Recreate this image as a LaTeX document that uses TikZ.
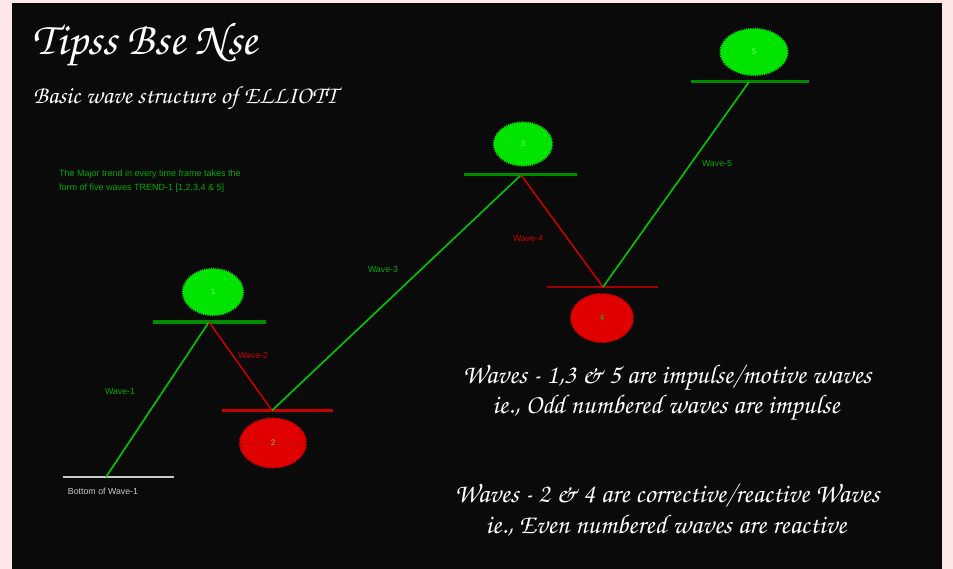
\documentclass[tikz,border=0pt]{standalone}
\usepackage[T1]{fontenc}
\usepackage{fontspec}
\usetikzlibrary{shapes.geometric,decorations.pathmorphing}
\setmainfont{Liberation Sans}
\newcommand\chanceryfont{\fontencoding{T1}\fontfamily{pzc}\fontseries{mb}\fontshape{it}\selectfont}
\definecolor{pagepink}{RGB}{253,232,232}
\definecolor{boardblack}{RGB}{10,10,10}
\definecolor{blobgreen}{RGB}{0,228,0}
\definecolor{linegreen}{RGB}{0,200,0}
\definecolor{bargreen}{RGB}{0,140,0}
\definecolor{blobred}{RGB}{225,0,0}
\definecolor{linered}{RGB}{200,0,0}
\definecolor{barred}{RGB}{160,0,0}
\definecolor{textgreen}{RGB}{0,170,0}
\definecolor{basegray}{RGB}{200,200,200}
\tikzset{
  x=1pt, y=-1pt,
  upleg/.style={draw=linegreen, line width=1.6pt},
  downleg/.style={draw=linered, line width=1.6pt},
  greenbar/.style={draw=bargreen, line width=3pt},
  redbar/.style={draw=linered, line width=2.6pt},
  darkredbar/.style={draw=barred, line width=2.6pt},
  blob/.style={ellipse, inner sep=0pt, font=\fontsize{8}{9}\selectfont,
    decorate, decoration={zigzag, segment length=2.2pt, amplitude=0.9pt}},
  greenblob/.style={blob, fill=blobgreen, draw=blobgreen, line width=0.4pt, text=green!60!white},
  redblob/.style={blob, fill=blobred, draw=blobred, line width=0.4pt, text=yellow!60!green},
  wavelabel/.style={font=\fontsize{8.8}{10}\selectfont, inner sep=0pt},
  fancy/.style={text=white, inner sep=0pt, font=\chanceryfont},
}
\begin{document}
\begin{tikzpicture}
  % page and board
  \fill[pagepink] (0,0) rectangle (953,569);
  \fill[boardblack] (12,3) rectangle (942,569);
  \useasboundingbox (0,0) rectangle (953,569);

  % headings
  \node[fancy, anchor=base west, font=\chanceryfont\fontsize{46}{50}\selectfont] (title) at (32,55) {Tipss Bse Nse};
  \node[fancy, anchor=base west, font=\chanceryfont\fontsize{24.6}{28}\selectfont] (subtitle) at (33,104) {Basic wave structure of ELLIOTT};

  % note on the major trend
  \node[wavelabel, text=textgreen, anchor=west, align=left, font=\fontsize{9}{14}\selectfont] (note) at (59,181)
    {The Major trend in every time frame takes the\\form of five waves TREND-1 [1,2,3,4 \& 5]};

  % turning points of the waves
  \coordinate (b0) at (106,477);
  \coordinate (p1) at (209,322);
  \coordinate (p2) at (272,410.5);
  \coordinate (p3) at (521,175);
  \coordinate (p4) at (603,287);
  \coordinate (p5) at (749,82);

  % level bars
  \draw[draw=basegray, line width=2.6pt] (63,477) -- (174,477);
  \draw[greenbar] (153,322) -- (266,322);
  \draw[redbar] (222,410.5) -- (333,410.5);
  \draw[greenbar] (464,175) -- (577,175);
  \draw[darkredbar] (547,287) -- (658,287);
  \draw[greenbar] (691,82) -- (809,82);

  % the five wave legs
  \draw[upleg] (b0) -- (p1);
  \draw[downleg] (p1) -- (p2);
  \draw[upleg] (p2) -- (p3);
  \draw[downleg] (p3) -- (p4);
  \draw[upleg] (p4) -- (p5);

  % wave numbers
  \node[greenblob, minimum width=60, minimum height=46] (e1) at (213,292) {1};
  \node[redblob, minimum width=66, minimum height=49] (e2) at (273,443) {2};
  \node[greenblob, minimum width=58, minimum height=43] (e3) at (523,144) {3};
  \node[redblob, minimum width=62, minimum height=48, text=linegreen] (e4) at (602,318) {4};
  \node[greenblob, minimum width=67, minimum height=46] (e5) at (754,52) {5};
  \draw[dotted, draw=blobred!65!black] (e2.west) -- (e2.east);

  % leg labels
  \node[wavelabel, text=textgreen] (w1) at (120,392) {Wave-1};
  \node[wavelabel, text=linered] (w2) at (253,355) {Wave-2};
  \node[wavelabel, text=textgreen] (w3) at (383,269) {Wave-3};
  \node[wavelabel, text=linered] (w4) at (528,239) {Wave-4};
  \node[wavelabel, text=textgreen] (w5) at (717,164) {Wave-5};
  \node[wavelabel, text=basegray] (bottom) at (103,491) {Bottom of Wave-1};

  % explanation
  \tikzset{body/.style={fancy, anchor=base, font=\chanceryfont\fontsize{27}{30}\selectfont}}
  \node[body] (l1) at (667,383) {Waves - 1,3 \& 5 are impulse/motive waves};
  \node[body] (l2) at (666,413) {ie., Odd numbered waves are impulse};
  \node[body] (l3) at (667,502) {Waves - 2 \& 4 are corrective/reactive Waves};
  \node[body] (l4) at (666,533) {ie., Even numbered waves are reactive};
\end{tikzpicture}
\end{document}
